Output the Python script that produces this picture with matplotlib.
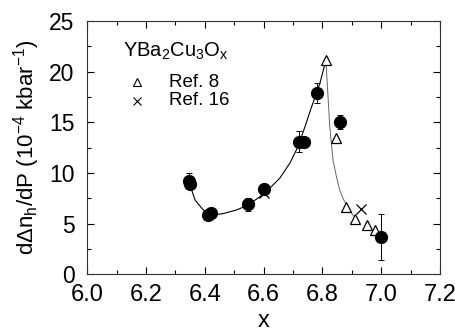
import numpy as np
import matplotlib
matplotlib.use('Agg')
import matplotlib.pyplot as plt
from matplotlib.ticker import MultipleLocator

plt.rcParams['font.family'] = ['Liberation Sans', 'DejaVu Sans']
plt.rcParams['mathtext.fontset'] = 'custom'
plt.rcParams['mathtext.rm'] = 'Liberation Sans'
plt.rcParams['mathtext.it'] = 'Liberation Sans'

# this work (filled circles)
x_dot = [6.347, 6.350, 6.412, 6.420, 6.548, 6.601, 6.721, 6.738, 6.780, 6.861, 6.998]
y_dot = [9.2, 8.9, 5.9, 6.1, 6.9, 8.4, 13.1, 13.1, 17.9, 15.0, 3.7]
e_dot = [0.8, 0.0, 0.0, 0.0, 0.6, 0.3, 1.0, 0.0, 1.0, 0.7, 2.3]

# Ref. 8 (open triangles)
x_tri = [6.812, 6.846, 6.879, 6.910, 6.950, 6.978]
y_tri = [21.1, 13.4, 6.6, 5.45, 4.85, 4.35]

# Ref. 16 (crosses)
x_crs = [6.600, 6.930]
y_crs = [8.0, 6.42]

# guide curve
x_left = [6.350, 6.367, 6.395, 6.429, 6.463, 6.508, 6.548, 6.604, 6.655,
          6.690, 6.717, 6.740, 6.763, 6.791, 6.812]
y_left = [8.8, 7.34, 6.35, 5.86, 6.0, 6.35, 6.85, 8.0, 9.48,
          11.0, 12.6, 14.5, 16.5, 18.8, 21.1]
x_right = [6.812, 6.825, 6.836, 6.848, 6.859, 6.870, 6.882, 6.895, 6.908]
y_right = [21.1, 14.6, 11.3, 9.6, 8.3, 7.5, 6.85, 6.2, 5.7]

fig = plt.figure(figsize=(4.56, 3.31), dpi=100)
ax = fig.add_axes([0.191, 0.171, 0.774, 0.766])

ax.plot(x_left, y_left, '-', c='black', lw=0.8)
ax.plot(x_right, y_right, '-', c='#666666', lw=0.7)

ax.errorbar(x_dot, y_dot, yerr=e_dot, fmt='o', c='black', ms=8.5,
            ecolor='black', elinewidth=0.7, capsize=2.5, capthick=0.7)
ax.plot(x_tri, y_tri, '^', mfc='white', mec='black', ms=7, mew=0.9)
ax.plot(x_crs, y_crs, 'x', c='black', ms=7, mew=0.9)

ax.set_xlim(6.0, 7.2)
ax.set_ylim(0, 25)
ax.xaxis.set_major_locator(MultipleLocator(0.2))
ax.xaxis.set_minor_locator(MultipleLocator(0.1))
ax.yaxis.set_major_locator(MultipleLocator(5))
ax.yaxis.set_minor_locator(MultipleLocator(2.5))
ax.xaxis.set_major_formatter(plt.FormatStrFormatter('%.1f'))
ax.tick_params(which='both', direction='in', top=True, right=True)
ax.tick_params(axis='x', labelsize=17, pad=7)
ax.tick_params(axis='y', labelsize=16.5, pad=9)
ax.tick_params(which='major', length=5, width=0.8)
ax.tick_params(which='minor', length=3, width=0.8)
for s in ax.spines.values():
    s.set_linewidth(0.8)
    s.set_color('#333333')

ax.set_xlabel('x', fontsize=17, labelpad=3)
ax.set_ylabel(r'd$\Delta$n$_\mathregular{h}$/dP (10$^\mathregular{-4}$ kbar$^\mathregular{-1}$)',
              fontsize=16, labelpad=5)

# legend drawn by hand
ax.text(0.102, 0.878, r'YBa$_2$Cu$_3$O$_x$', transform=ax.transAxes, fontsize=14.5,
        va='center', ha='left')
ax.plot([0.141], [0.757], '^', mfc='white', mec='black', ms=6, mew=0.8,
        transform=ax.transAxes)
ax.text(0.232, 0.757, 'Ref. 8', transform=ax.transAxes, fontsize=13.5, va='center')
ax.plot([0.141], [0.684], 'x', c='black', ms=6, mew=0.8, transform=ax.transAxes)
ax.text(0.232, 0.684, 'Ref. 16', transform=ax.transAxes, fontsize=13.5, va='center')

fig.savefig('out.png', dpi=100)
